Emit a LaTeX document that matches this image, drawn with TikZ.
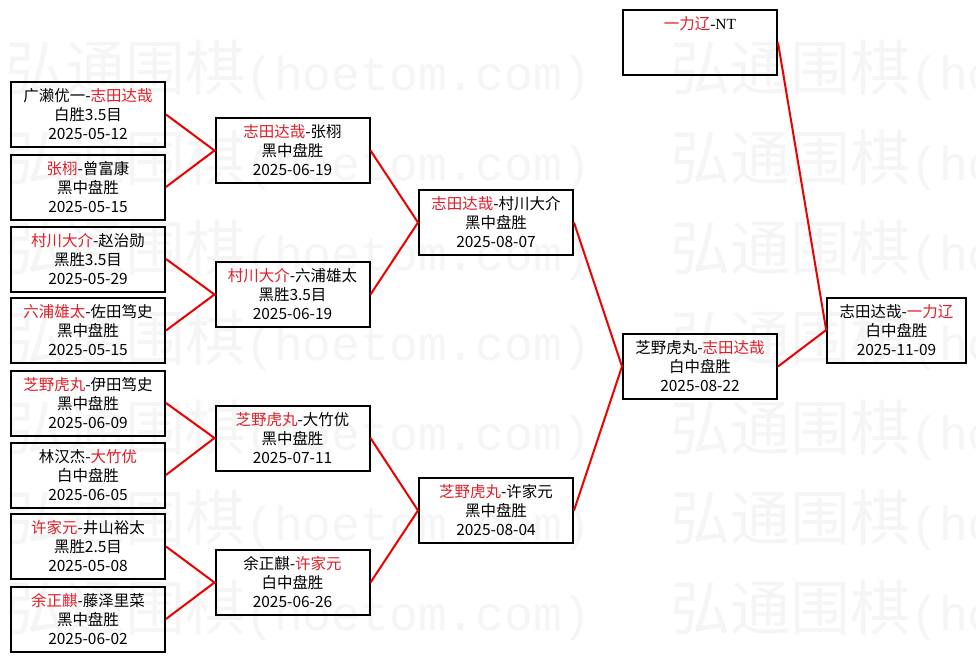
\documentclass[tikz,border=0pt]{standalone}
\usepackage{fontspec}
\setmainfont{Noto Sans CJK SC}
\newfontfamily\wmlatin{Liberation Mono}
\newfontfamily\ntfont{Liberation Serif}
\definecolor{winred}{RGB}{225,30,40}
\definecolor{linered}{RGB}{235,0,0}
\definecolor{wmgray}{RGB}{245,245,245}
\newcommand\winner[1]{\textcolor{winred}{#1}}
\newcommand\wmrow{弘通围棋{\wmlatin\fontsize{36pt}{36pt}\selectfont(hoetom.com)}}
\begin{document}
\begin{tikzpicture}[x=0.75pt,y=-0.75pt,
  game/.style={draw=black, line width=1.5pt, minimum width=115.5pt, minimum height=48.75pt, inner sep=0pt, align=center, font=\fontsize{11.6pt}{14.25pt}\selectfont},
  link/.style={draw=linered, line width=1.5pt},
  wm/.style={anchor=base west, inner sep=0pt, text=wmgray, font=\fontsize{45pt}{45pt}\selectfont}]
\useasboundingbox (0,0) rectangle (976,661);
\fill[white] (0,0) rectangle (976,661);
\begin{scope}
\clip (0,0) rectangle (976,661);
\foreach \k in {0,...,6} {
  \node[wm] (wmL\k) at (5, 90+90*\k) {\wmrow};
  \node[wm] (wmR\k) at (670, 90+90*\k) {\wmrow};
}
\end{scope}
% round 1
\node[game] (a1) at (88,114.5) {广濑优一-\winner{志田达哉}\\白胜3.5目\\2025-05-12};
\node[game] (a2) at (88,187) {\winner{张栩}-曾富康\\黑中盘胜\\2025-05-15};
\node[game] (a3) at (88,259) {\winner{村川大介}-赵治勋\\黑胜3.5目\\2025-05-29};
\node[game] (a4) at (88,330.5) {\winner{六浦雄太}-佐田笃史\\黑中盘胜\\2025-05-15};
\node[game] (a5) at (88,403) {\winner{芝野虎丸}-伊田笃史\\黑中盘胜\\2025-06-09};
\node[game] (a6) at (88,475) {林汉杰-\winner{大竹优}\\白中盘胜\\2025-06-05};
\node[game] (a7) at (88,546.5) {\winner{许家元}-井山裕太\\黑胜2.5目\\2025-05-08};
\node[game] (a8) at (88,619) {\winner{余正麒}-藤泽里菜\\黑中盘胜\\2025-06-02};
% round 2
\node[game] (b1) at (292.5,150.5) {\winner{志田达哉}-张栩\\黑中盘胜\\2025-06-19};
\node[game] (b2) at (292.5,294.5) {\winner{村川大介}-六浦雄太\\黑胜3.5目\\2025-06-19};
\node[game] (b3) at (292.5,438) {\winner{芝野虎丸}-大竹优\\黑中盘胜\\2025-07-11};
\node[game] (b4) at (292.5,582.5) {余正麒-\winner{许家元}\\白中盘胜\\2025-06-26};
% round 3
\node[game] (c1) at (496,222.5) {\winner{志田达哉}-村川大介\\黑中盘胜\\2025-08-07};
\node[game] (c2) at (496,510.5) {\winner{芝野虎丸}-许家元\\黑中盘胜\\2025-08-04};
% round 4
\node[game] (d1) at (700,366.5) {芝野虎丸-\winner{志田达哉}\\白中盘胜\\2025-08-22};
\node[game] (t1) at (700,42.5) {\winner{一力辽}{\ntfont -NT}\\\phantom{黑中盘胜}\\\phantom{2025-08-22}};
% final
\node[game, minimum width=104pt] (f1) at (896.5,330) {志田达哉-\winner{一力辽}\\白中盘胜\\2025-11-09};
% connectors
\draw[link] (a1.east) -- (b1.west) -- (a2.east);
\draw[link] (a3.east) -- (b2.west) -- (a4.east);
\draw[link] (a5.east) -- (b3.west) -- (a6.east);
\draw[link] (a7.east) -- (b4.west) -- (a8.east);
\draw[link] (b1.east) -- (c1.west) -- (b2.east);
\draw[link] (b3.east) -- (c2.west) -- (b4.east);
\draw[link] (c1.east) -- (d1.west) -- (c2.east);
\draw[link] (t1.east) -- (f1.west) -- (d1.east);
\end{tikzpicture}
\end{document}
